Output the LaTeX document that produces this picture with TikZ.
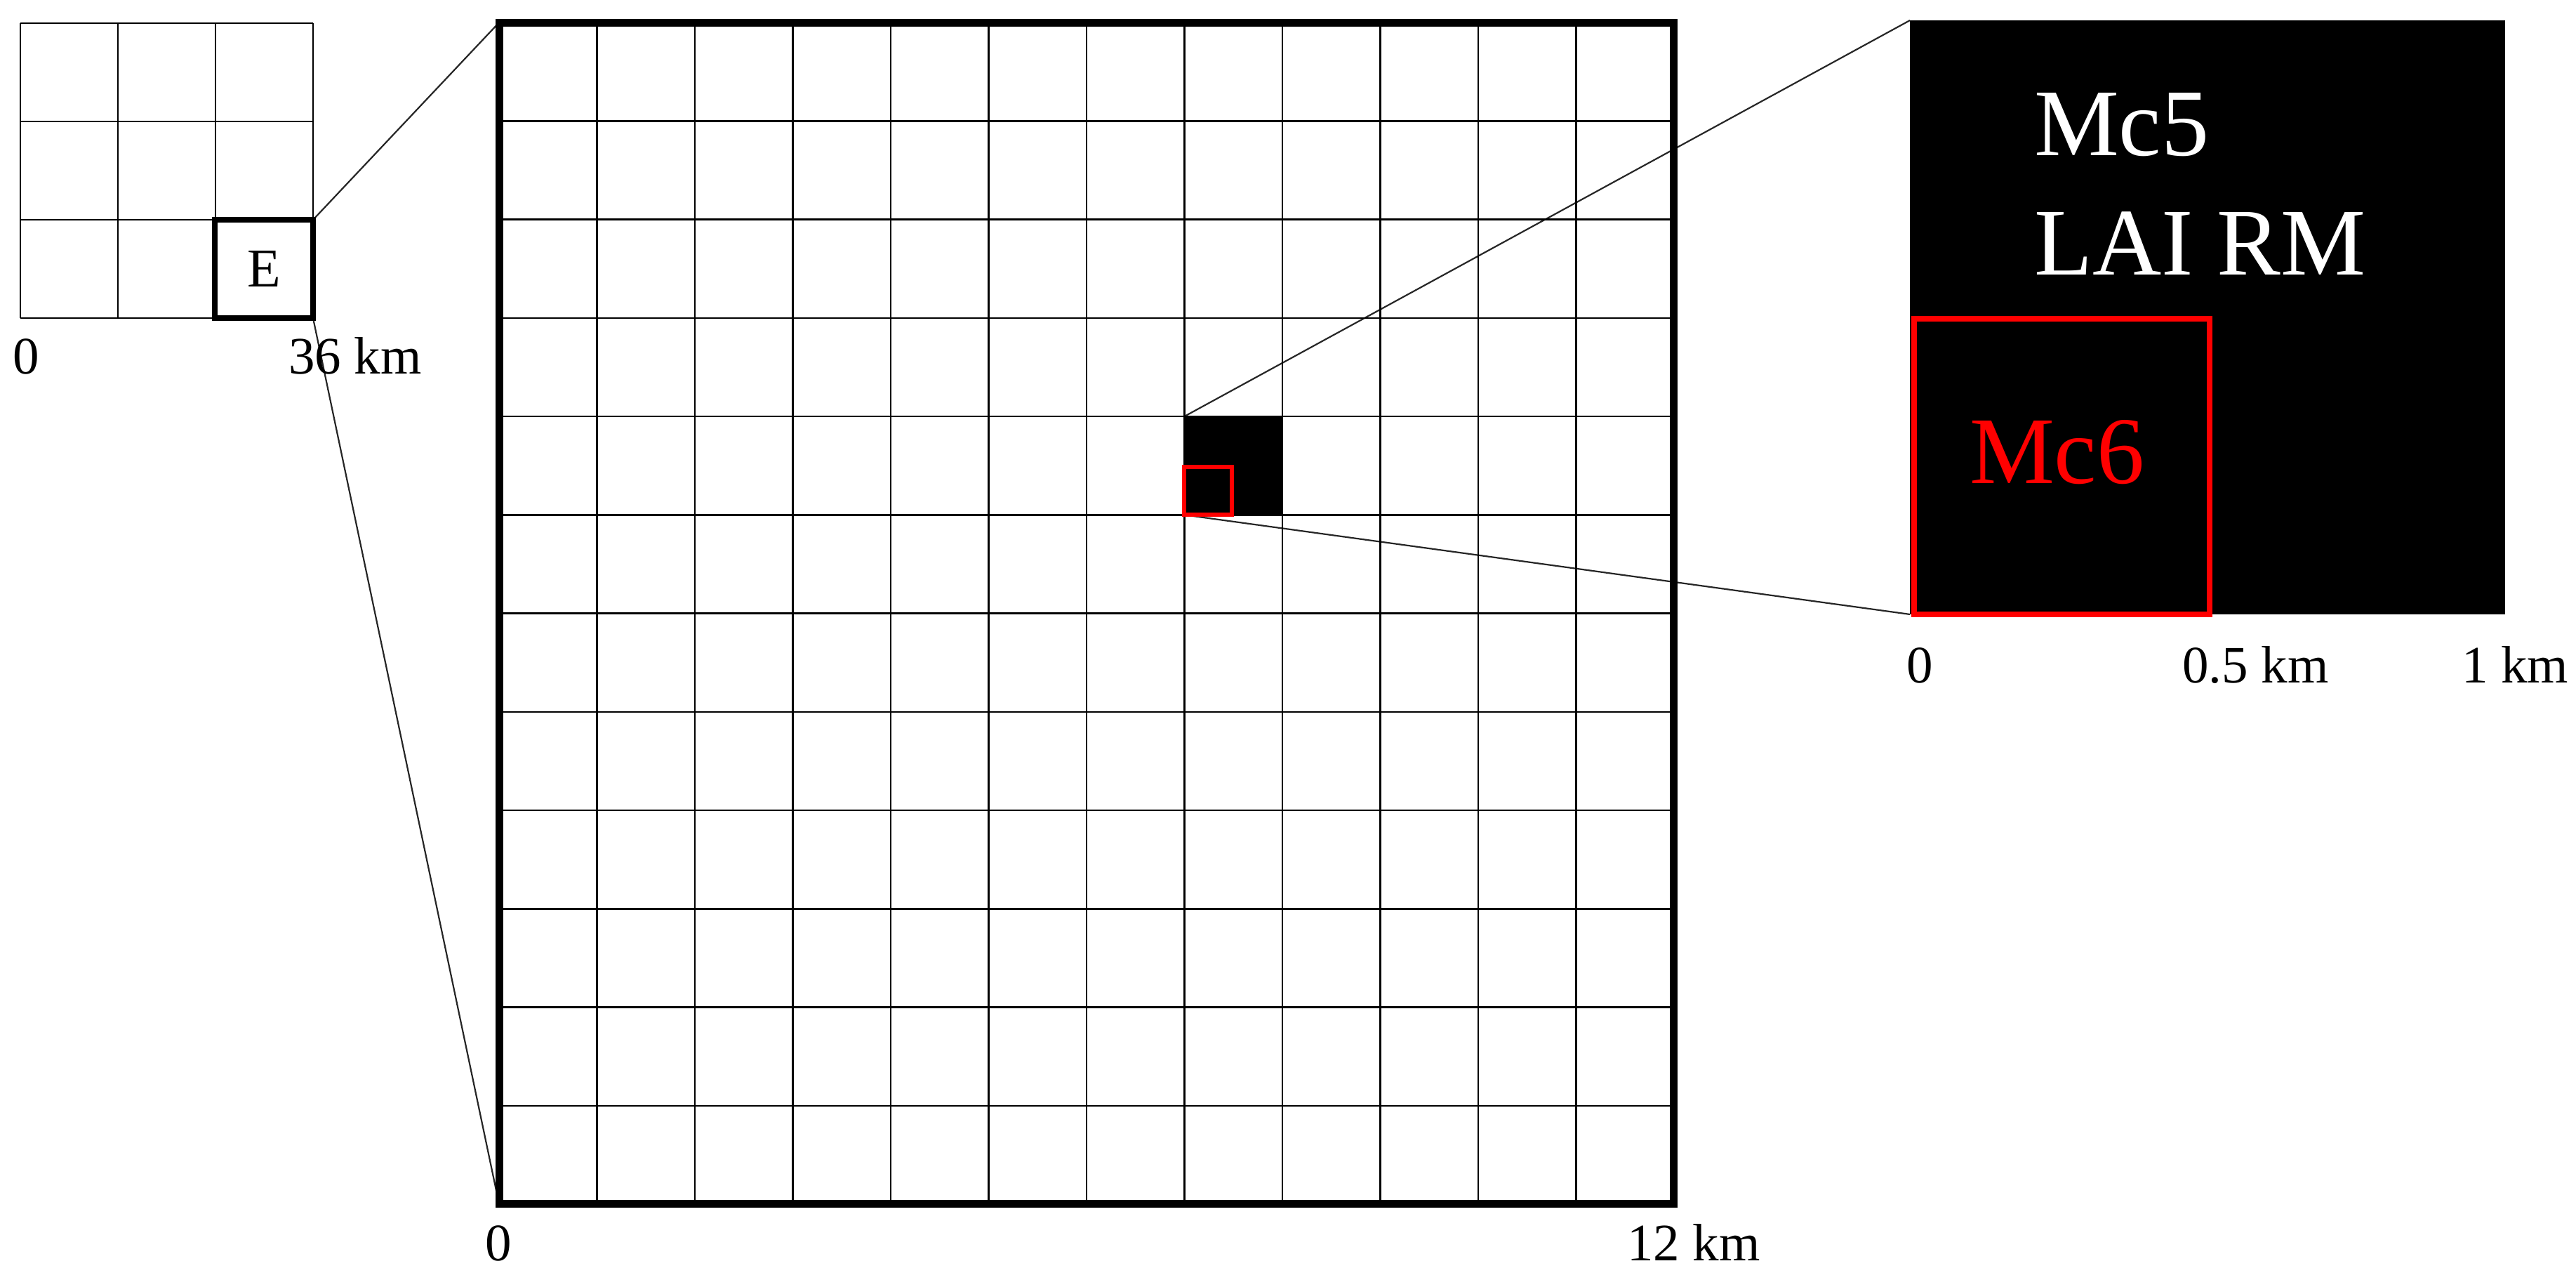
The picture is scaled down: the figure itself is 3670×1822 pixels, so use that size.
\documentclass[tikz,border=0pt]{standalone}
\usepackage{fontspec}
\setmainfont{Liberation Serif}
\usetikzlibrary{backgrounds}
\tikzset{
  gridline/.style={line width=0.25pt, black},
  connector/.style={line width=0.22pt, black!85},
  cellbox/.style={inner sep=0pt, outer sep=0pt},
  smalllabel/.style={inner sep=0pt, outer sep=0pt, font=\fontsize{7.5pt}{9pt}\selectfont},
  biglabel/.style={inner sep=0pt, outer sep=0pt, anchor=base west, font=\fontsize{13.6pt}{16pt}\selectfont},
}
\begin{document}
\begin{tikzpicture}[x=0.1pt,y=-0.1pt]
\useasboundingbox (0,0) rectangle (3670,1822);

% ---- small 3x3 grid ----
\foreach \i in {0,1,2,3} {
  \draw[gridline] (29+139*\i,33) -- (29+139*\i,453);
  \draw[gridline] (29,33+140*\i) -- (446,33+140*\i);
}
\node[cellbox, draw, line width=0.8pt, minimum width=14pt, minimum height=14pt,
      font=\fontsize{7.8pt}{9pt}\selectfont] (E) at (376,383) {E};
\node[smalllabel, anchor=base] (s0) at (37,532) {0};
\node[smalllabel, anchor=base west] (s36) at (411,532) {36 km};

% ---- big 12x12 grid ----
\node[cellbox, fill=black, minimum width=13.95pt, minimum height=14.025pt, anchor=north west]
  (blk) at (711+139.5*7,32+140.25*4) {};
\foreach \i in {1,...,11} {
  \draw[gridline] (711+139.5*\i,32) -- (711+139.5*\i,1715);
  \draw[gridline] (711,32+140.25*\i) -- (2385,32+140.25*\i);
}
\node[cellbox, draw, line width=1.1pt, minimum width=167.4pt, minimum height=168.3pt]
  (big) at (1548,873.5) {};
\node[cellbox, draw=red, line width=0.6pt, minimum width=6.8pt, minimum height=6.8pt,
      anchor=south west] (rsmall) at ([xshift=-0.05pt]blk.south west) {};
\node[smalllabel, anchor=base] (b0) at (710,1795) {0};
\node[smalllabel, anchor=base west] (b12) at (2318,1795) {12 km};

% ---- zoomed cell ----
\node[cellbox, fill=black, minimum width=84.8pt, minimum height=84.6pt, anchor=north west]
  (zoom) at (2721,29) {};
\node[cellbox, draw=red, line width=0.8pt, minimum width=42.1pt, minimum height=42.1pt,
      anchor=south west] (rbig) at ([xshift=0.6pt]zoom.south west) {};
\node[biglabel, text=white] (mc5) at (2898,221) {Mc5};
\node[biglabel, text=white] (lai) at (2898,391) {LAI RM};
\node[biglabel, text=red] (mc6) at (2806,688) {Mc6};
\node[smalllabel, anchor=base] (z0) at (2735,972) {0};
\node[smalllabel, anchor=base west] (z05) at (3109,972) {0.5 km};
\node[smalllabel, anchor=base west] (z1) at (3507,972) {1 km};

% ---- connectors ----
\begin{scope}[on background layer]
  \draw[connector] (E.north east) -- (big.north west);
  \draw[connector] (E.south east) -- (big.south west);
  \draw[connector] (blk.north west) -- (zoom.north west);
  \draw[connector] (rsmall.south west) -- (zoom.south west);
\end{scope}
\end{tikzpicture}
\end{document}
